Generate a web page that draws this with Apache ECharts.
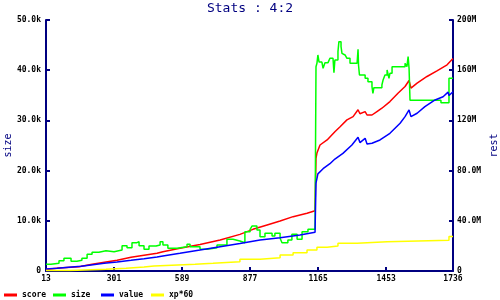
<!DOCTYPE html>
<html><head><meta charset="utf-8">
<script src="https://cdn.jsdelivr.net/npm/echarts@6/dist/echarts.min.js"></script>
<style>html,body{margin:0;padding:0;background:#fff}#c{width:500px;height:300px}</style>
</head><body><div id="c"></div>
<script>
// x tick positions and labels
var xTicks = [13, 301, 589, 877, 1165, 1453, 1736];
var xTickLabels = ['13', '301', '589', '877', '1165', '1453', '1736'];
var leftTickValues = [0, 10, 20, 30, 40, 50];           // thousands
var leftTickLabels = ['0', '10.0k', '20.0k', '30.0k', '40.0k', '50.0k'];
var rightTickValues = [0, 40, 80, 120, 160, 200];       // millions
var rightTickLabels = ['0', '40.0M', '80.0M', '120M', '160M', '200M'];
var seriesNames = ['score', 'size', 'value', 'xp*60'];

// score (millions, right axis)
var scoreData = [[13,1.2],[68,2.4],[153,3.4],[208,5.3],[267,7.2],[314,8.5],[373,10.9],[428,12.5],[483,14.1],[508,15.4],[580,18.1],[665,21.2],[750,24.7],[834,29.2],[889,33.2],[949,36.7],[1004,39.8],[1059,43.3],[1118,46.0],[1152,48.0],[1156,89.8],[1160,94.0],[1173,100.4],[1203,104.4],[1236,111.0],[1258,115.0],[1287,120.4],[1313,123.0],[1334,128.5],[1342,125.3],[1364,127.0],[1372,124.3],[1393,124.3],[1414,127.0],[1435,129.7],[1469,135.0],[1503,141.6],[1533,147.0],[1550,151.8],[1558,145.7],[1584,149.7],[1626,155.0],[1668,159.5],[1711,164.3],[1736,169.3]];
// size (thousands, left axis)
var sizeData = [[13,1.33],[34,1.53],[68,2.06],[89,2.53],[119,1.93],[144,2.13],[165,2.53],[187,3.32],[208,3.72],[237,4.04],[267,3.84],[301,4.18],[335,5.04],[356,4.64],[377,5.64],[398,5.84],[407,5.04],[428,4.32],[449,4.98],[479,5.18],[496,5.84],[508,5.18],[529,4.52],[568,4.85],[610,5.31],[623,4.85],[665,4.32],[695,4.64],[737,5.18],[779,6.31],[805,5.98],[834,5.64],[855,7.83],[877,8.30],[885,8.96],[906,8.17],[919,6.84],[940,7.50],[970,6.97],[982,7.50],[1004,6.51],[1012,5.64],[1037,6.18],[1054,7.30],[1076,6.31],[1097,7.83],[1122,8.30],[1152,8.43],[1156,40.70],[1160,41.37],[1164,43.03],[1169,41.63],[1181,41.37],[1186,40.37],[1194,41.50],[1207,41.37],[1215,42.37],[1228,42.37],[1232,39.49],[1236,42.04],[1249,43.69],[1253,45.68],[1262,44.69],[1266,43.36],[1270,43.03],[1279,43.22],[1287,42.37],[1300,41.37],[1330,41.37],[1334,44.15],[1336,41.04],[1340,39.04],[1364,38.38],[1376,37.71],[1393,36.71],[1397,35.39],[1401,36.52],[1435,37.05],[1440,38.05],[1448,39.04],[1457,40.04],[1465,38.38],[1469,39.37],[1478,40.70],[1533,41.37],[1541,40.70],[1546,42.70],[1550,40.37],[1554,34.0],[1685,33.5],[1719,38.4],[1736,38.4]];
// value (millions, right axis)
var valueData = [[13,1.6],[60,2.1],[110,2.9],[161,3.7],[204,4.8],[259,6.1],[314,7.2],[373,8.5],[428,9.8],[483,11.2],[508,12.0],[580,14.1],[665,16.7],[750,19.4],[834,22.0],[919,24.7],[1004,26.5],[1088,28.7],[1152,30.8],[1156,70.0],[1164,77.4],[1186,81.5],[1215,85.5],[1236,89.2],[1270,93.7],[1308,100.4],[1334,106.6],[1342,102.3],[1364,105.7],[1372,101.2],[1393,101.8],[1427,104.4],[1469,109.7],[1512,117.7],[1533,123.0],[1550,128.3],[1558,123.0],[1584,125.7],[1617,131.0],[1660,136.3],[1694,138.9],[1715,142.5],[1719,139.8],[1736,142.8]];
// xp*60 (millions, right axis)
var xpData = [[13,0.3],[115,1.4],[267,2.1],[352,3.2],[428,4.0],[470,4.6],[546,5.3],[644,6.1],[720,7.4],[834,9.3],[919,10.6],[1004,12.7],[1059,14.6],[1118,16.7],[1160,18.9],[1203,19.9],[1249,22.1],[1330,23.4],[1457,24.6],[1719,27.5],[1736,27.5]];

var NAVY = '#000080';
var FONT = 'DejaVu Sans Mono';
var lblStyle = {color: '#000', fontFamily: FONT, fontSize: 8, fontWeight: 'bold'};

var chart = echarts.init(document.getElementById('c'), null, {renderer: 'canvas'});
function legendAt(name, left) {
  return {data: [name], left: left, top: 291, padding: 0, itemWidth: 13, itemHeight: 3,
    icon: 'rect', selectedMode: false, textStyle: lblStyle};
}
var colors = ['#ff0000', '#00ff00', '#0000ff', '#ffff00'];
var datas = [scoreData, sizeData, valueData, xpData];
var axisIdx = [1, 0, 1, 1];
var steps = [false, 'end', false, 'end'];
chart.setOption({
  animation: false,
  backgroundColor: '#fff',
  title: {text: 'Stats : 4:2', left: 'center', top: 2, padding: 0,
    textStyle: {color: NAVY, fontFamily: FONT, fontSize: 13, fontWeight: 'normal'}},
  legend: [legendAt(seriesNames[0], 4), legendAt(seriesNames[1], 53), legendAt(seriesNames[2], 101), legendAt(seriesNames[3], 151)],
  grid: {left: 46, right: 47, top: 20, bottom: 29, containLabel: false, outerBoundsMode: 'none'},
  xAxis: {type: 'value', min: 13, max: 1736,
    axisLine: {lineStyle: {color: NAVY, width: 2}},
    axisTick: {inside: true, length: 4, lineStyle: {color: NAVY, width: 2}, customValues: xTicks},
    axisLabel: Object.assign({margin: 4, customValues: xTicks, showMinLabel: true, showMaxLabel: true,
      formatter: function (v) { return xTickLabels[xTicks.indexOf(v)]; }}, lblStyle),
    splitLine: {show: false}},
  yAxis: [
    {type: 'value', min: 0, max: 50, interval: 10, position: 'left',
      name: 'size', nameLocation: 'middle', nameRotate: 90, nameGap: 33, nameMoveOverlap: false,
      nameTextStyle: {color: NAVY, fontFamily: FONT, fontSize: 10},
      axisLine: {show: true, lineStyle: {color: NAVY, width: 2}},
      axisTick: {show: true, inside: true, length: 4, lineStyle: {color: NAVY, width: 2}},
      axisLabel: Object.assign({margin: 5, formatter: function (v) { return leftTickLabels[leftTickValues.indexOf(v)]; }}, lblStyle),
      splitLine: {show: false}},
    {type: 'value', min: 0, max: 200, interval: 40, position: 'right',
      name: 'rest', nameLocation: 'middle', nameRotate: 90, nameGap: 36, nameMoveOverlap: false,
      nameTextStyle: {color: NAVY, fontFamily: FONT, fontSize: 10},
      axisLine: {show: true, lineStyle: {color: NAVY, width: 2}},
      axisTick: {show: true, inside: true, length: 4, lineStyle: {color: NAVY, width: 2}},
      axisLabel: Object.assign({margin: 4, formatter: function (v) { return rightTickLabels[rightTickValues.indexOf(v)]; }}, lblStyle),
      splitLine: {show: false}}
  ],
  series: seriesNames.map(function (n, i) {
    return {name: n, type: 'line', data: datas[i], yAxisIndex: axisIdx[i], step: steps[i],
      showSymbol: false, symbol: 'none', color: colors[i],
      lineStyle: {color: colors[i], width: 1.5}, emphasis: {disabled: true}};
  })
});
</script></body></html>
